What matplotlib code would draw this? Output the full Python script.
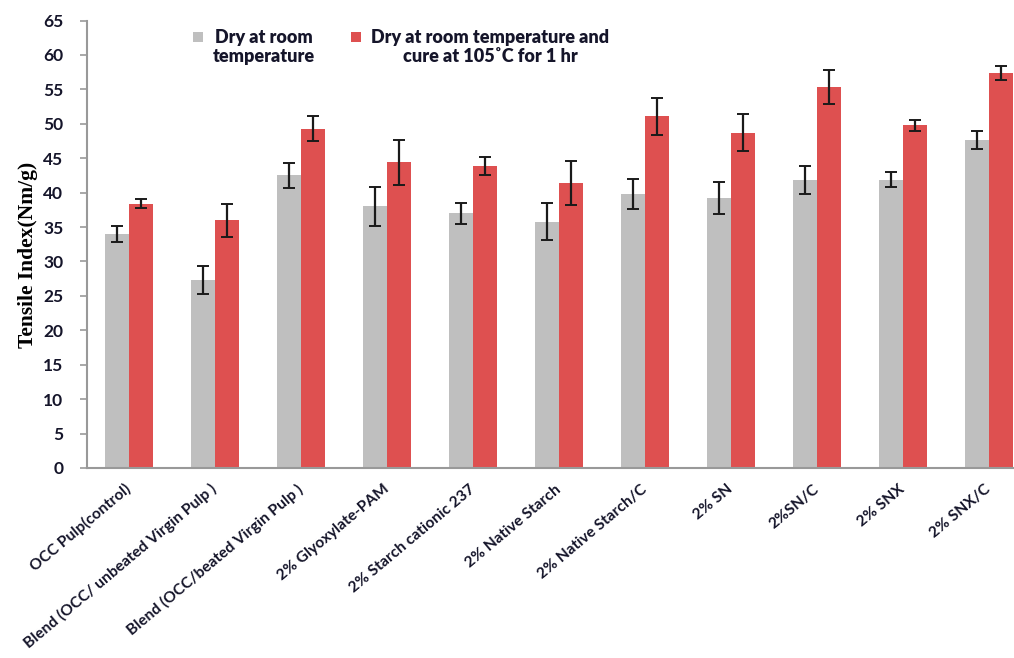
import matplotlib
matplotlib.use("Agg")
import matplotlib.pyplot as plt
from matplotlib.patches import Rectangle
import numpy as np

categories = ["OCC Pulp(control)", "Blend (OCC/ unbeated Virgin Pulp )",
              "Blend (OCC/beated Virgin Pulp )", "2% Glyoxylate-PAM",
              "2% Starch cationic 237", "2% Native Starch", "2% Native Starch/C",
              "2% SN", "2%SN/C", "2% SNX", "2% SNX/C"]
dry = [34.0, 27.3, 42.5, 38.0, 37.0, 35.8, 39.8, 39.2, 41.8, 41.9, 47.6]
dry_err = [1.2, 2.0, 1.8, 2.8, 1.5, 2.7, 2.2, 2.3, 2.0, 1.1, 1.3]
cured = [38.4, 36.0, 49.3, 44.4, 43.9, 41.4, 51.1, 48.7, 55.3, 49.8, 57.4]
cured_err = [0.7, 2.4, 1.8, 3.3, 1.3, 3.2, 2.7, 2.7, 2.5, 0.8, 1.0]
series_labels = ["Dry at room\ntemperature",
                 "Dry at room temperature and\ncure at 105˚C for 1 hr"]
yticks = list(range(0, 70, 5))

gray = "#BFBFBF"
red = "#DE5050"
txt = "#15152a"
fam = ["Lato", "DejaVu Sans"]

W, H = 1014, 658
fig = plt.figure(figsize=(W / 100, H / 100), dpi=100)
ax = fig.add_axes([87 / W, 190 / H, 1 - 87 / W, (468 - 20.5) / H])

x = np.arange(len(categories))
w = 0.28
ekw = dict(ecolor="#1a1a1a", elinewidth=1.6, capsize=4, capthick=1.4)
ax.bar(x - w / 2, dry, w, color=gray, yerr=dry_err, error_kw=ekw, zorder=2)
ax.bar(x + w / 2, cured, w, color=red, yerr=cured_err, error_kw=ekw, zorder=2)

ax.set_xlim(-0.49, 10.29)
ax.set_ylim(0, 65)
ax.set_yticks(yticks)
ax.set_yticklabels([str(v) for v in yticks], fontsize=12.5, fontweight="bold",
                   family=fam, color=txt)
ax.set_xticks(x)
ax.set_xticklabels(categories, rotation=40, ha="right", va="center",
                   rotation_mode="anchor", fontsize=11.2, fontweight="bold",
                   family=fam, color=txt)
ax.tick_params(axis="x", length=0, pad=14)
ax.tick_params(axis="y", length=5, color="#999999", width=1.2, pad=12, direction="out")
for s in ["top", "right"]:
    ax.spines[s].set_visible(False)
for s in ["left", "bottom"]:
    ax.spines[s].set_color("#999999")
    ax.spines[s].set_linewidth(1.5)

fig.text(28 / W, 1 - 255 / H, "Tensile Index(Nm/g)", rotation=90,
         ha="center", va="center", fontsize=15.5, fontweight="bold",
         family="Liberation Serif", color="#000000")

# legend drawn manually (handle aligned with the first text line)
sq = 10
for (hx, tx), lab, col in zip([(198, 264), (356, 490)], series_labels, [gray, red]):
    fig.add_artist(Rectangle(((hx - sq / 2) / W, 1 - (37 + sq / 2) / H), sq / W, sq / H,
                             transform=fig.transFigure, color=col, lw=0))
    fig.text(tx / W, 1 - 29 / H, lab, ha="center", va="top", multialignment="center",
             fontsize=13, fontweight="heavy", family=fam, color=txt, linespacing=1.15)

fig.savefig("out.png", dpi=100)
